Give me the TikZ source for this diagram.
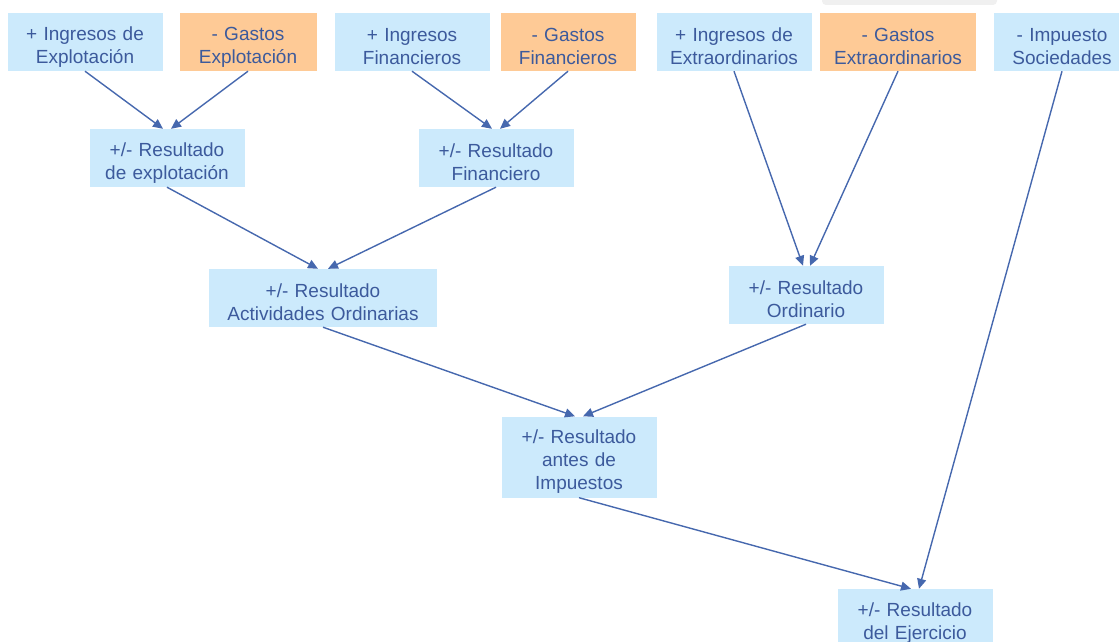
\documentclass[tikz,border=0pt]{standalone}
\usepackage{fontspec}
\setmainfont{Liberation Sans}
\usetikzlibrary{arrows.meta}
\definecolor{cajaazul}{HTML}{CCEAFC}
\definecolor{cajanaranja}{HTML}{FECA96}
\definecolor{textoazul}{HTML}{3C5A9C}
\definecolor{flecha}{HTML}{4668AE}

\begin{document}
\begin{tikzpicture}[x=1pt, y=-1pt,
	caja/.style={fill=cajaazul, text=textoazul, align=center, inner xsep=13pt, inner ysep=3pt,
		text width=129pt, minimum height=58pt, font=\fontsize{19}{23}\selectfont,
		execute at begin node={\rule{0pt}{23pt}}},
	gasto/.style={caja, fill=cajanaranja, text width=109pt},
	flechas/.style={draw=flecha, line width=1.4pt, -{Triangle[length=10pt, width=9pt]}}]
	\useasboundingbox (0, 0) rectangle (1119, 642);
	\fill [gray!12, rounded corners=4pt] (822, -6) rectangle (997, 5);
	\node [caja] (IE) at (85, 42) {+ Ingresos de\\Explotación};
	\node [gasto, text width=111pt] (GE) at (248, 42) {- Gastos\\Explotación};
	\node [caja] (IF) at (412, 42) {+ Ingresos\\Financieros};
	\node [gasto] (GF) at (568, 42) {- Gastos\\Financieros};
	\node [caja] (IX) at (734, 42) {+ Ingresos de\\Extraordinarios};
	\node [gasto, text width=130pt] (GX) at (898, 42) {- Gastos\\Extraordinarios};
	\node [caja, text width=111pt] (IS) at (1062, 42) {- Impuesto\\Sociedades};
	\node [caja] (RE) at (167, 158) {+/- Resultado\\de explotación};
	\node [caja] (RF) at (496, 158) {+/- Resultado\\Financiero};
	\node [caja, text width=202pt] (RAO) at (323, 298) {+/- Resultado\\Actividades Ordinarias};
	\node [caja] (RO) at (806, 295) {+/- Resultado\\Ordinario};
	\node [caja, minimum height=81pt] (RAI) at (579, 457) {+/- Resultado\\antes de\\Impuestos};
	\node [caja] (RDE) at (915, 618) {+/- Resultado\\del Ejercicio};
	\draw [flechas] (IE.south) -- ([xshift=-4pt]RE.north);
	\draw [flechas] (GE.south) -- ([xshift=4pt]RE.north);
	\draw [flechas] (IF.south) -- ([xshift=-4pt]RF.north);
	\draw [flechas] (GF.south) -- ([xshift=4pt]RF.north);
	\draw [flechas] (IX.south) -- ([xshift=-3pt]RO.north);
	\draw [flechas] (GX.south) -- ([xshift=4pt]RO.north);
	\draw [flechas] (RE.south) -- ([xshift=-5pt]RAO.north);
	\draw [flechas] (RF.south) -- ([xshift=5pt]RAO.north);
	\draw [flechas] (RAO.south) -- ([xshift=-4pt]RAI.north);
	\draw [flechas] (RO.south) -- ([xshift=4pt]RAI.north);
	\draw [flechas] (RAI.south) -- ([xshift=-4pt]RDE.north);
	\draw [flechas] (IS.south) -- ([xshift=4pt]RDE.north);
\end{tikzpicture}
\end{document}
